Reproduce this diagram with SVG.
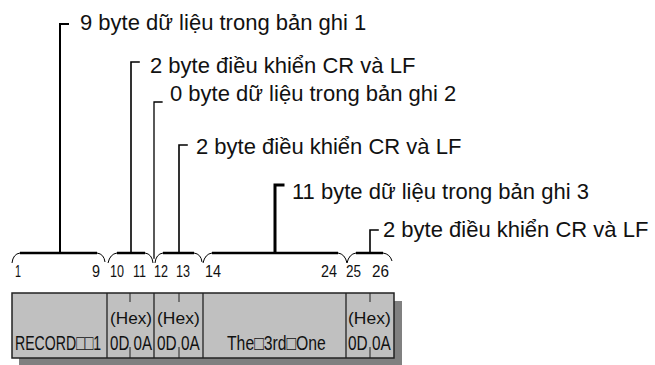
<svg xmlns="http://www.w3.org/2000/svg" width="655" height="365" viewBox="0 0 655 365">
  <style>
    .lbl { font-family: "Liberation Sans", Arial, sans-serif; font-size: 22px; fill: #111; }
    .num { font-family: "Liberation Sans", Arial, sans-serif; font-size: 17px; fill: #111; }
    .cell { font-family: "Liberation Sans", Arial, sans-serif; fill: #111; }
    .lead { fill: none; stroke: #000; stroke-linecap: square; }
    .brace { fill: none; stroke: #000; stroke-width: 2.5; }
    .curl { fill: none; stroke: #000; stroke-width: 1; }
    .rec { fill: #c0c0c0; stroke: #222; stroke-width: 1.5; }
    .div { stroke: #222; stroke-width: 1.3; }
  </style>
  <rect width="655" height="365" fill="#fff"/>

  <!-- record strip with drop shadow -->
  <g id="record-strip">
    <rect x="19" y="301" width="383" height="64" fill="#808080"/>
    <rect class="rec" x="12" y="293" width="382" height="65"/>
    <line class="div" x1="107" y1="293" x2="107" y2="358"/>
    <line class="div" x1="154" y1="293" x2="154" y2="358"/>
    <line class="div" x1="203" y1="293" x2="203" y2="358"/>
    <line class="div" x1="346" y1="293" x2="346" y2="358"/>
    <!-- byte separators inside CR/LF cells -->
    <g stroke="#222" stroke-width="1">
      <line x1="130" y1="293" x2="130" y2="302"/><line x1="130" y1="347" x2="130" y2="358"/>
      <line x1="179" y1="293" x2="179" y2="302"/><line x1="179" y1="347" x2="179" y2="358"/>
      <line x1="370" y1="293" x2="370" y2="302"/><line x1="370" y1="347" x2="370" y2="358"/>
    </g>
    <!-- cell texts are drawn narrow: scale(0.7,1), lengths in local units -->
    <text class="cell" transform="translate(15,350) scale(0.7,1)" font-size="21" textLength="123" lengthAdjust="spacingAndGlyphs">RECORD□□1</text>
    <text class="cell" transform="translate(110,324) scale(0.7,1)" font-size="17" textLength="60" lengthAdjust="spacingAndGlyphs">(Hex)</text>
    <text class="cell" transform="translate(110,350) scale(0.7,1)" font-size="20" textLength="60" lengthAdjust="spacingAndGlyphs">0D 0A</text>
    <text class="cell" transform="translate(157,324) scale(0.7,1)" font-size="17" textLength="61" lengthAdjust="spacingAndGlyphs">(Hex)</text>
    <text class="cell" transform="translate(157,350) scale(0.7,1)" font-size="20" textLength="61" lengthAdjust="spacingAndGlyphs">0D 0A</text>
    <text class="cell" transform="translate(227,350) scale(0.7,1)" font-size="20" textLength="141" lengthAdjust="spacingAndGlyphs">The□3rd□One</text>
    <text class="cell" transform="translate(348,324) scale(0.7,1)" font-size="17" textLength="61" lengthAdjust="spacingAndGlyphs">(Hex)</text>
    <text class="cell" transform="translate(348,350) scale(0.7,1)" font-size="20" textLength="61" lengthAdjust="spacingAndGlyphs">0D 0A</text>
  </g>

  <!-- byte offsets -->
  <g id="offsets">
    <text class="num" x="15" y="277" textLength="6" lengthAdjust="spacingAndGlyphs">1</text>
    <text class="num" x="92" y="277" textLength="8" lengthAdjust="spacingAndGlyphs">9</text>
    <text class="num" x="110" y="277" textLength="14" lengthAdjust="spacingAndGlyphs">10</text>
    <text class="num" x="133" y="277" textLength="13" lengthAdjust="spacingAndGlyphs">11</text>
    <text class="num" x="154" y="277" textLength="14" lengthAdjust="spacingAndGlyphs">12</text>
    <text class="num" x="176" y="277" textLength="14" lengthAdjust="spacingAndGlyphs">13</text>
    <text class="num" x="205" y="277" textLength="16" lengthAdjust="spacingAndGlyphs">14</text>
    <text class="num" x="321" y="277" textLength="16" lengthAdjust="spacingAndGlyphs">24</text>
    <text class="num" x="346" y="277" textLength="15" lengthAdjust="spacingAndGlyphs">25</text>
    <text class="num" x="372" y="277" textLength="17" lengthAdjust="spacingAndGlyphs">26</text>
  </g>

  <!-- connectors: braces and leader lines -->
  <g id="connectors">
    <path class="brace" d="M20,253 H97"/>
    <path class="curl" d="M12,263 Q13,254 20,253 M97,253 Q104,254 105,262"/>
    <path class="brace" d="M117,253 H145"/>
    <path class="curl" d="M108,263 Q110,254 117,253 M145,253 Q152,254 153,263"/>
    <path class="brace" d="M163,253 H194"/>
    <path class="curl" d="M155,263 Q156,254 163,253 M194,253 Q201,254 202,262"/>
    <path class="brace" d="M212,253 H338"/>
    <path class="curl" d="M203,263 Q205,254 212,253 M338,253 Q345,254 347,263"/>
    <path class="brace" d="M356,253 H383"/>
    <path class="curl" d="M347,263 Q349,254 356,253 M383,253 Q390,254 392,261"/>

    <path class="lead" stroke-width="2" d="M60,252 V24 H68"/>
    <path class="lead" stroke-width="1.6" d="M131,252 V62 H139"/>
    <path class="lead" stroke-width="1.3" d="M154,258 V102 H162"/>
    <path class="lead" stroke-width="1.6" d="M179,252 V145 H187"/>
    <path class="lead" stroke-width="3" d="M275,252 V185 H283"/>
    <path class="lead" stroke-width="1.6" d="M370,252 V230 H378"/>
  </g>

  <!-- field labels -->
  <g id="label-record1"><text class="lbl" x="80" y="30">9 byte dữ liệu trong bản ghi 1</text></g>
  <g id="label-crlf1"><text class="lbl" x="150" y="73">2 byte điều khiển CR và LF</text></g>
  <g id="label-record2"><text class="lbl" x="170" y="101">0 byte dữ liệu trong bản ghi 2</text></g>
  <g id="label-crlf2"><text class="lbl" x="196" y="154">2 byte điều khiển CR và LF</text></g>
  <g id="label-record3"><text class="lbl" x="292" y="199">11 byte dữ liệu trong bản ghi 3</text></g>
  <g id="label-crlf3"><text class="lbl" x="383" y="237">2 byte điều khiển CR và LF</text></g>
</svg>
